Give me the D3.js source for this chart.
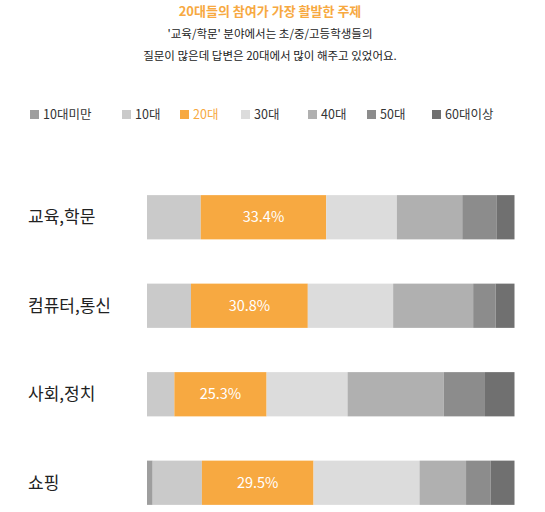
<!DOCTYPE html>
<html><head><meta charset="utf-8">
<script src="https://cdn.jsdelivr.net/npm/d3@7"></script>
<style>body{margin:0;background:#fff;font-family:"Noto Sans CJK KR","Noto Sans",sans-serif}</style>
</head><body><svg id="c" width="545" height="512"></svg>
<script>
const categories = ["교육,학문","컴퓨터,통신","사회,정치","쇼핑"];
const ageGroups = ["10대미만","10대","20대","30대","40대","50대","60대이상"];
const colors = ["#9e9e9e","#cacaca","#f7a941","#dcdcdc","#b0b0b0","#8c8c8c","#707070"];
const s_u10 = [0, 0, 0, 1.5];
const s_10 = [14.3, 11.6, 7.5, 13.0];
const s_20 = [33.4, 30.8, 25.3, 29.5];
const s_30 = [18.8, 22.5, 22.2, 28.0];
const s_40 = [17.4, 21.1, 26.4, 12.3];
const s_50 = [9.2, 5.9, 11.3, 6.5];
const s_60 = [4.7, 5.0, 8.1, 6.3];
const series = [s_u10, s_10, s_20, s_30, s_40, s_50, s_60];
const legendX = [30, 122, 180, 241, 308, 367, 432];

const svg = d3.select("#c");
svg.append("text").attr("x",270).attr("y",16).attr("text-anchor","middle")
  .attr("fill","#f7a941").attr("font-size",13).attr("font-weight",700).text("20대들의 참여가 가장 활발한 주제");
svg.append("text").attr("x",270).attr("y",38).attr("text-anchor","middle")
  .attr("fill","#222").attr("font-size",11.5).text("'교육/학문' 분야에서는 초/중/고등학생들의");
svg.append("text").attr("x",270).attr("y",60).attr("text-anchor","middle")
  .attr("fill","#222").attr("font-size",11.5).text("질문이 많은데 답변은 20대에서 많이 해주고 있었어요.");

const lg = svg.selectAll("g.lg").data(ageGroups).join("g").attr("transform",(d,i)=>`translate(${legendX[i]},115)`);
lg.append("rect").attr("x",0).attr("y",-5).attr("width",9).attr("height",9).attr("fill",(d,i)=>colors[i]);
lg.append("text").attr("x",13).attr("y",4).attr("font-size",12.5)
  .attr("fill",(d,i)=>i===2?"#f7a941":"#333").text(d=>d);

const y = d3.scaleBand().domain(categories).range([173,527]).paddingInner(0.5).paddingOuter(0.25);
categories.forEach((cat,ci)=>{
  const vals = series.map(s=>s[ci]);
  const total = d3.sum(vals);
  const x = d3.scaleLinear().domain([0,total]).range([147,514.5]);
  let cum = 0;
  const segs = vals.map((v,i)=>{const o={i,v,x0:cum,x1:cum+v};cum+=v;return o;});
  const g = svg.append("g");
  g.selectAll("rect").data(segs).join("rect")
    .attr("x",d=>x(d.x0)).attr("width",d=>x(d.x1)-x(d.x0))
    .attr("y",y(cat)).attr("height",y.bandwidth()).attr("fill",d=>colors[d.i]);
  const o = segs[2];
  g.append("text").attr("x",(x(o.x0)+x(o.x1))/2).attr("y",y(cat)+y.bandwidth()/2+5)
    .attr("text-anchor","middle").attr("fill","#fff").attr("font-size",14.5).text(o.v.toFixed(1)+"%");
  svg.append("text").attr("x",28).attr("y",y(cat)+y.bandwidth()/2+6)
    .attr("font-size",17).attr("fill","#222").text(cat);
});
</script></body></html>
